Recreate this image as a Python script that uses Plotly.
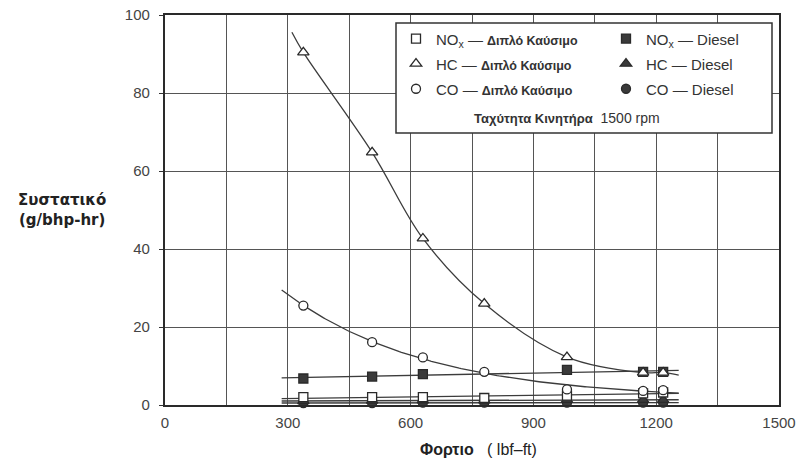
import numpy as np
import plotly.graph_objects as go

# ---------------- data ----------------
load = [338, 506, 630, 780, 982, 1168, 1217]           # lbf-ft
nox_dual = [2.0, 2.0, 2.0, 1.8, 2.4, 3.0, 3.2]
hc_dual = [90.4, 64.8, 42.7, 26.0, 12.3, 8.3, 8.3]
co_dual = [25.5, 16.1, 12.2, 8.5, 4.0, 3.6, 3.8]

load_diesel = [338, 506, 630, 982, 1168, 1217]
nox_diesel = [6.8, 7.3, 7.9, 9.0, 8.5, 8.5]
hc_diesel = [1.0, 1.1, 1.2, 1.2, 1.3, 1.3, 1.3]   # at `load`
co_diesel = [0.5, 0.5, 0.6, 0.6, 0.6, 0.6, 0.6]   # at `load`

x_ticks = [0, 300, 600, 900, 1200, 1500]
y_ticks = [0, 20, 40, 60, 80, 100]

# load range covered by the hand-drawn trend lines
hc_span = (310, 1255)
other_span = (285, 1255)

# ---------------- helpers ----------------
def exp_fit(x, y, xs):
    """least-squares fit of y = a*exp(-b*x) + c"""
    x = np.asarray(x, float); y = np.asarray(y, float)
    best = None
    for b in np.linspace(0.0005, 0.01, 400):
        A = np.column_stack([np.exp(-b * x), np.ones_like(x)])
        coef, *_ = np.linalg.lstsq(A, y, rcond=None)
        err = np.sum((A @ coef - y) ** 2)
        if best is None or err < best[0]:
            best = (err, b, coef)
    _, b, (a, c) = best
    return a * np.exp(-b * xs) + c

def lin_fit(x, y, xs):
    p = np.polyfit(x, y, 1)
    return np.polyval(p, xs)

def smooth_through(x, y, x0, x1):
    """points for a spline through the data, with short log-linear tails"""
    x = list(map(float, x)); y = list(map(float, y))
    s0 = (np.log(y[1]) - np.log(y[0])) / (x[1] - x[0])
    s1 = (np.log(y[-3]) - np.log(y[-2])) / (x[-3] - x[-2])
    y0 = y[0] * np.exp(s0 * (x0 - x[0]))
    y1 = y[-1] * np.exp(s1 * (x1 - x[-1]))
    return [x0] + x + [x1], [y0] + y + [y1]

xs = np.linspace(*other_span, 200)
LINE = dict(color="#3c3c3c", width=1.3)
MK_EDGE = "#2a2a2a"
FILL = "#3a3a3a"

fig = go.Figure()

# trend lines
hx, hy = smooth_through(load, hc_dual, *hc_span)
fig.add_trace(go.Scatter(x=hx, y=hy, mode="lines",
                         line=dict(**LINE, shape="spline", smoothing=1.0),
                         showlegend=False, hoverinfo="skip"))
curves = [
    exp_fit(load, co_dual, xs),
    lin_fit(load_diesel, nox_diesel, xs),
    lin_fit(load, nox_dual, xs),
    lin_fit(load, hc_diesel, xs),
    lin_fit(load, co_diesel, xs),
]
for cy in curves:
    fig.add_trace(go.Scatter(x=xs, y=cy, mode="lines", line=LINE,
                             showlegend=False, hoverinfo="skip"))

def nm(txt):
    return "<span style='font-size:15px'>" + txt + "</span>"

dual_txt = "<span style='font-size:12.5px'><b>Διπλό Καύσιμο</b></span>"

def add_pts(x, y, name, symbol, filled, rank, legend):
    fig.add_trace(go.Scatter(
        x=x, y=y, mode="markers", name=name, legendrank=rank, legend=legend,
        marker=dict(symbol=symbol, size=10 if symbol == "triangle-up" else 9,
                    color=FILL if filled else "white",
                    line=dict(color=MK_EDGE, width=1.3)),
        cliponaxis=False))

# filled (diesel) first so open markers sit on top where they coincide
add_pts(load, co_diesel, nm("CO — Diesel"), "circle", True, 3, "legend2")
add_pts(load, hc_diesel, nm("HC — Diesel"), "triangle-up", True, 2, "legend2")
add_pts(load_diesel, nox_diesel, nm("NO<sub>x</sub> — Diesel"), "square", True, 1, "legend2")
add_pts(load, nox_dual, nm("NO<sub>x</sub> — " + dual_txt), "square", False, 1, "legend")
add_pts(load, co_dual, nm("CO — " + dual_txt), "circle", False, 3, "legend")
add_pts(load, hc_dual, nm("HC — " + dual_txt), "triangle-up", False, 2, "legend")

# ---------------- layout ----------------
W, H = 806, 463
L, R, T, B = 165, 27, 15, 58
pw, ph = W - L - R, H - T - B

def px_x(p):  # pixel -> paper x
    return (p - L) / pw

def px_y(p):  # pixel -> paper y
    return (H - B - p) / ph

FONT = "Liberation Sans, Arial, sans-serif"

legend_common = dict(orientation="v", xanchor="left", yanchor="top",
                     bgcolor="rgba(0,0,0,0)", borderwidth=0,
                     font=dict(family=FONT, size=17, color="#333"),
                     itemsizing="trace", traceorder="normal", valign="middle")

fig.update_layout(
    width=W, height=H,
    margin=dict(l=L, r=R, t=T, b=B, autoexpand=False),
    paper_bgcolor="white", plot_bgcolor="white",
    font=dict(family=FONT, size=15, color="#3a3a3a"),
    xaxis=dict(range=[0, 1500], tickvals=x_ticks, showgrid=True,
               gridcolor="#555", gridwidth=1,
               minor=dict(dtick=150, showgrid=True, gridcolor="#555", gridwidth=1),
               showline=True, linecolor="#2a2a2a", linewidth=2.2, mirror=True,
               zeroline=False, ticks="", ticklabelstandoff=3,
               tickfont=dict(size=15, color="#444")),
    yaxis=dict(range=[0, 100], tickvals=y_ticks, showgrid=True,
               gridcolor="#555", gridwidth=1,
               showline=True, linecolor="#2a2a2a", linewidth=2.2, mirror=True,
               zeroline=False, ticks="outside", ticklen=4, tickcolor="#333",
               ticklabelstandoff=6,
               tickfont=dict(size=15, color="#444")),
    legend=dict(x=px_x(396), y=px_y(21), **legend_common),
    legend2=dict(x=px_x(606), y=px_y(21), **legend_common),
    shapes=[dict(type="rect", xref="paper", yref="paper",
                 x0=px_x(396), x1=px_x(772), y0=px_y(133), y1=px_y(23),
                 fillcolor="white", line=dict(color="#333", width=1.5),
                 layer="above")],
    annotations=[
        dict(xref="paper", yref="paper", x=px_x(567), y=px_y(118),
             xanchor="center", yanchor="middle",
             text="<span style='font-size:13px'><b>Ταχύτητα Κινητήρα</b></span>  1500 rpm",
             showarrow=False, font=dict(size=14, color="#333")),
        dict(xref="paper", yref="paper", x=px_x(62), y=px_y(210),
             xanchor="center", yanchor="middle",
             text="<b>Συστατικό</b><br><b>(g/bhp-hr)</b>",
             showarrow=False, font=dict(size=15, color="#222", family="DejaVu Sans"),
             align="center"),
        dict(xref="paper", yref="paper", x=px_x(478), y=px_y(449),
             xanchor="center", yanchor="middle",
             text="<b>Φορτιο</b>&nbsp;&nbsp;&nbsp;(&nbsp;lbf–ft)", showarrow=False,
             font=dict(size=16, color="#222")),
    ],
)

fig.write_html("out.html")
